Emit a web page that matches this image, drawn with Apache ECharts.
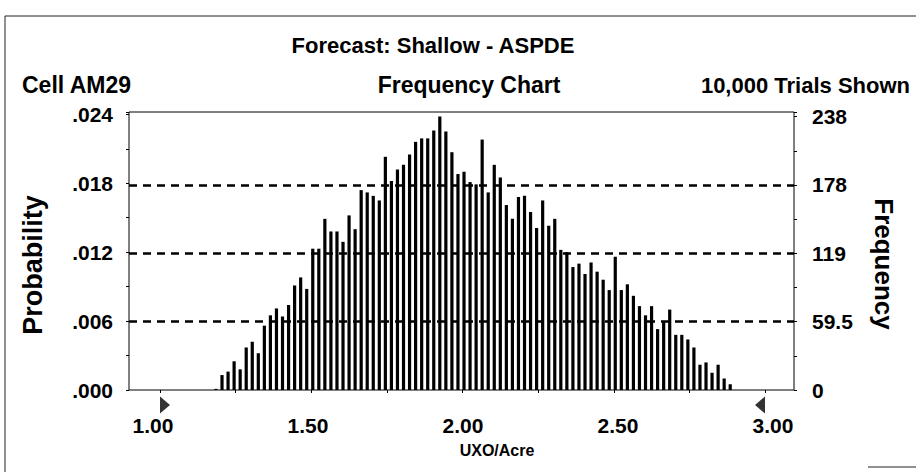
<!DOCTYPE html>
<html><head><meta charset="utf-8">
<script src="https://cdn.jsdelivr.net/npm/echarts@6/dist/echarts.min.js"></script>
<style>html,body{margin:0;padding:0;background:#fff}#c{width:916px;height:472px}</style>
</head><body><div id="c"></div>
<script>
// ---- data ----
const binCenters = [
  1.185,1.205,1.225,1.245,1.265,1.285,1.305,1.325,1.345,1.365,
  1.385,1.405,1.425,1.445,1.465,1.485,1.505,1.525,1.545,1.565,
  1.585,1.605,1.625,1.645,1.665,1.685,1.705,1.725,1.745,1.765,
  1.785,1.805,1.825,1.845,1.865,1.885,1.905,1.925,1.945,1.965,
  1.985,2.005,2.025,2.045,2.065,2.085,2.105,2.125,2.145,2.165,
  2.185,2.205,2.225,2.245,2.265,2.285,2.305,2.325,2.345,2.365,
  2.385,2.405,2.425,2.445,2.465,2.485,2.505,2.525,2.545,2.565,
  2.585,2.605,2.625,2.645,2.665,2.685,2.705,2.725,2.745,2.765,
  2.785,2.805,2.825,2.845,2.865,2.885
];
const frequencies = [
  1,13,16,25,18,37,42,32,56,65,
  71,64,74,91,98,88,123,123,149,138,
  138,129,152,140,174,172,169,165,203,182,
  192,196,205,216,219,219,226,238,225,207,
  188,190,181,179,218,172,196,185,161,149,
  168,169,155,141,165,143,149,122,120,107,
  110,101,111,103,96,87,116,87,92,82,
  73,65,73,53,59,70,48,48,44,37,
  22,24,15,22,10,5
];
const probTicks = [0, 60, 120, 180, 240];          // in frequency units (prob * 10000)
const probLabels = ['.000', '.006', '.012', '.018', '.024'];
const freqTicks = [0, 59.5, 119, 178.5, 238];
const freqLabels = ['0', '59.5', '119', '178', '238'];
const xTicks = [1.0, 1.5, 2.0, 2.5, 3.0];
const xLabels = ['1.00', '1.50', '2.00', '2.50', '3.00'];
const certaintyEnds = [1.0, 3.0];

// ---- layout ----
const FONT = 'Liberation Sans, Arial, sans-serif';
const plotL = 129, plotR = 794, plotT = 112, baseY = 390;
const xL = 160, xR = 765;               // pixel positions of 1.00 and 3.00 ticks
const lblL = 153, lblR = 773;           // pixel centres of the first / last x labels
const pxPerUnit = (xR - xL) / (xTicks[xTicks.length - 1] - xTicks[0]);
const xMin = xTicks[0] - (xL - plotL) / pxPerUnit;
const xMax = xTicks[xTicks.length - 1] + (plotR - xR) / pxPerUnit;
const yMax = 242;

function lookup(v, ticks, labels) {
  for (let i = 0; i < ticks.length; i++) if (Math.abs(v - ticks[i]) < 1e-6) return labels[i];
  return '';
}

const chart = echarts.init(document.getElementById('c'), null, {renderer: 'svg'});
const labelStyle = {fontFamily: FONT, fontWeight: 'bold', fontSize: 21, color: '#000'};

chart.setOption({
  animation: false,
  backgroundColor: '#fff',
  grid: [
    {left: plotL, right: 916 - plotR, top: plotT, bottom: 472 - baseY, show: true, borderColor: '#000', borderWidth: 1, backgroundColor: 'transparent'},
    {left: xL, right: 916 - xR, top: plotT, bottom: 472 - baseY, show: false},
    {left: lblL, right: 916 - lblR, top: plotT, bottom: 472 - baseY, show: false}
  ],
  xAxis: [
    {type: 'value', gridIndex: 0, min: xMin, max: xMax, axisLine: {show: false}, axisTick: {show: false}, axisLabel: {show: false}, splitLine: {show: false}},
    {type: 'value', gridIndex: 1, min: xTicks[0], max: xTicks[xTicks.length - 1], interval: 0.5,
      axisLine: {show: false},
      axisTick: {show: true, length: 3, lineStyle: {color: '#000', width: 1}},
      minorTick: {show: true, splitNumber: 2, length: 3, lineStyle: {color: '#000', width: 1}},
      splitLine: {show: false}, axisLabel: {show: false}},
    {type: 'value', gridIndex: 2, min: xTicks[0], max: xTicks[xTicks.length - 1], interval: 0.5,
      axisLine: {show: false}, axisTick: {show: false}, splitLine: {show: false},
      axisLabel: Object.assign({margin: 25, formatter: v => lookup(v, xTicks, xLabels)}, labelStyle)}
  ],
  yAxis: [
    {type: 'value', gridIndex: 0, position: 'left', min: 0, max: yMax, interval: 60,
      axisLine: {show: false},
      axisTick: {show: true, length: 3, lineStyle: {color: '#000'}},
      minorTick: {show: true, splitNumber: 2, length: 3, lineStyle: {color: '#000'}},
      splitLine: {show: false},
      axisLabel: Object.assign({margin: 16, padding: [0, 0, 6, 0], formatter: v => lookup(v, probTicks, probLabels)}, labelStyle)},
    {type: 'value', gridIndex: 0, position: 'right', min: 0, max: yMax, interval: 59.5,
      axisLine: {show: false},
      axisTick: {show: true, length: 3, lineStyle: {color: '#000'}},
      minorTick: {show: true, splitNumber: 2, length: 3, lineStyle: {color: '#000'}},
      splitLine: {show: false},
      axisLabel: Object.assign({margin: 18, padding: [0, 0, 8, 0], formatter: v => lookup(v, freqTicks, freqLabels)}, labelStyle)},
    {type: 'value', gridIndex: 1, min: 0, max: yMax, show: false},
    {type: 'value', gridIndex: 2, min: 0, max: yMax, show: false}
  ],
  series: [
    {type: 'bar', xAxisIndex: 0, yAxisIndex: 1, barWidth: 3.2,
      itemStyle: {color: '#000'},
      data: binCenters.map((c, i) => [c, frequencies[i]]),
      markLine: {silent: true, symbol: 'none', label: {show: false},
        lineStyle: {color: '#000', type: [8, 6], width: 2.5},
        data: freqTicks.slice(1, 4).map(v => ({yAxis: v}))}
    },
    {type: 'scatter', xAxisIndex: 1, yAxisIndex: 2, clip: false, silent: true,
      itemStyle: {color: '#000'},
      data: certaintyEnds.map((v, i) => ({
        value: [v, 0],
        symbol: i === 0 ? 'path://M0,0L10,8L0,16Z' : 'path://M10,0L0,8L10,16Z',
        symbolSize: [10, 17],
        symbolOffset: [i === 0 ? 5 : -5, 15]
      }))
    }
  ],
  graphic: [
    {type: 'polyline', silent: true, shape: {points: [[5, 472], [5, 16], [916, 16]]}, style: {stroke: '#222', lineWidth: 1, fill: null}},
    {type: 'line', silent: true, shape: {x1: 868, y1: 467, x2: 916, y2: 467}, style: {stroke: '#222', lineWidth: 1}},
    {type: 'text', x: 433, y: 45, style: {text: 'Forecast: Shallow - ASPDE', font: 'bold 22px ' + FONT, fill: '#000', textAlign: 'center', textVerticalAlign: 'middle'}},
    {type: 'text', x: 22, y: 85, style: {text: 'Cell AM29', font: 'bold 23px ' + FONT, fill: '#000', textAlign: 'left', textVerticalAlign: 'middle'}},
    {type: 'text', x: 469, y: 85, style: {text: 'Frequency Chart', font: 'bold 23px ' + FONT, fill: '#000', textAlign: 'center', textVerticalAlign: 'middle'}},
    {type: 'text', x: 910, y: 85, style: {text: '10,000 Trials Shown', font: 'bold 22px ' + FONT, fill: '#000', textAlign: 'right', textVerticalAlign: 'middle'}},
    {type: 'text', x: 33, y: 265, rotation: Math.PI / 2, style: {text: 'Probability', font: 'bold 27px ' + FONT, fill: '#000', textAlign: 'center', textVerticalAlign: 'middle'}},
    {type: 'text', x: 884, y: 264, rotation: -Math.PI / 2, style: {text: 'Frequency', font: 'bold 26px ' + FONT, fill: '#000', textAlign: 'center', textVerticalAlign: 'middle'}},
    {type: 'text', x: 497, y: 450, style: {text: 'UXO/Acre', font: 'bold 16px ' + FONT, fill: '#000', textAlign: 'center', textVerticalAlign: 'middle'}}
  ]
});
</script>
</body></html>
